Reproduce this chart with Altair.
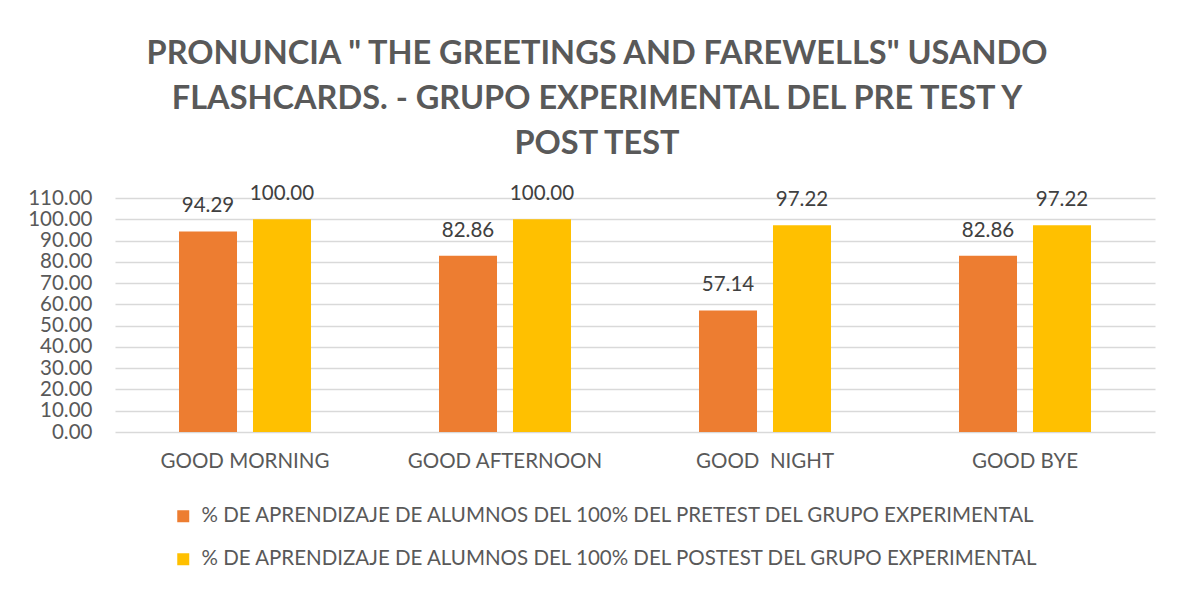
import altair as alt
import pandas as pd

categories = ["GOOD MORNING", "GOOD AFTERNOON", "GOOD  NIGHT", "GOOD BYE"]
pretest = [94.29, 82.86, 57.14, 82.86]
posttest = [100.00, 100.00, 97.22, 97.22]
series = [
    "% DE APRENDIZAJE DE ALUMNOS DEL 100% DEL PRETEST DEL GRUPO EXPERIMENTAL",
    "% DE APRENDIZAJE DE ALUMNOS DEL 100% DEL POSTEST DEL GRUPO EXPERIMENTAL",
]
colors = ["#ED7D31", "#FFC000"]
y_ticks = [0, 10, 20, 30, 40, 50, 60, 70, 80, 90, 100, 110]
title_lines = [
    'PRONUNCIA " THE GREETINGS AND FAREWELLS" USANDO',
    "FLASHCARDS. - GRUPO EXPERIMENTAL DEL PRE TEST Y",
    "POST TEST",
]

rows = []
for c, a, b in zip(categories, pretest, posttest):
    rows.append({"cat": c, "serie": series[0], "value": a})
    rows.append({"cat": c, "serie": series[1], "value": b})
df = pd.DataFrame(rows)

FONT = "Lato"
GRAY = "#595959"

x = alt.X(
    "cat:N",
    sort=categories,
    scale=alt.Scale(paddingInner=0, paddingOuter=0),
    axis=alt.Axis(
        title=None, labelAngle=0, ticks=False, domain=False,
        labelFontSize=20.5, labelColor=GRAY, labelFont=FONT, labelPadding=19,
        labelLimit=0,
        labelExpr="replace(datum.label, '  ', '\u00a0\u00a0')",
    ),
)
xo = alt.XOffset(
    "serie:N", sort=series,
    scale=alt.Scale(paddingInner=0.216, paddingOuter=0.865),
)
y = alt.Y(
    "value:Q",
    scale=alt.Scale(domain=[0, 110], nice=False),
    axis=alt.Axis(
        values=y_ticks, format=".2f", title=None, ticks=False, domain=False,
        labelPadding=23, labelFontSize=20.5, labelColor=GRAY, labelFont=FONT,
        gridColor="#D9D9D9", gridWidth=1.3,
    ),
)

bars = alt.Chart(df).mark_bar().encode(
    x=x, xOffset=xo, y=y,
    color=alt.Color(
        "serie:N",
        scale=alt.Scale(domain=series, range=colors),
        legend=alt.Legend(
            title=None, orient="none", legendX=58, legendY=308,
            direction="vertical", symbolType="square", symbolSize=144,
            symbolStrokeWidth=0, labelFontSize=20.5, labelColor=GRAY,
            labelFont=FONT, labelLimit=0, rowPadding=22, labelOffset=8,
        ),
    ),
)

labels = alt.Chart(df).mark_text(
    dy=-19, baseline="alphabetic", fontSize=20.5, color="#404040", font=FONT
).encode(
    x=x, xOffset=xo, y=y,
    text=alt.Text("value:Q", format=".2f"),
)

chart = (
    alt.layer(bars, labels)
    .properties(
        width=1040,
        height=234,
        autosize=alt.AutoSizeParams(type="none"),
        padding={"left": 107, "top": 190, "right": 29, "bottom": 152},
        title=alt.TitleParams(
            text=title_lines, font=FONT, fontSize=32.5, fontWeight="bold",
            color=GRAY, anchor="middle", dx=-38, offset=24, lineHeight=45,
        ),
    )
    .configure_view(stroke=None)
)

chart.save("out.html", embed_options={"renderer": "svg", "actions": False})
